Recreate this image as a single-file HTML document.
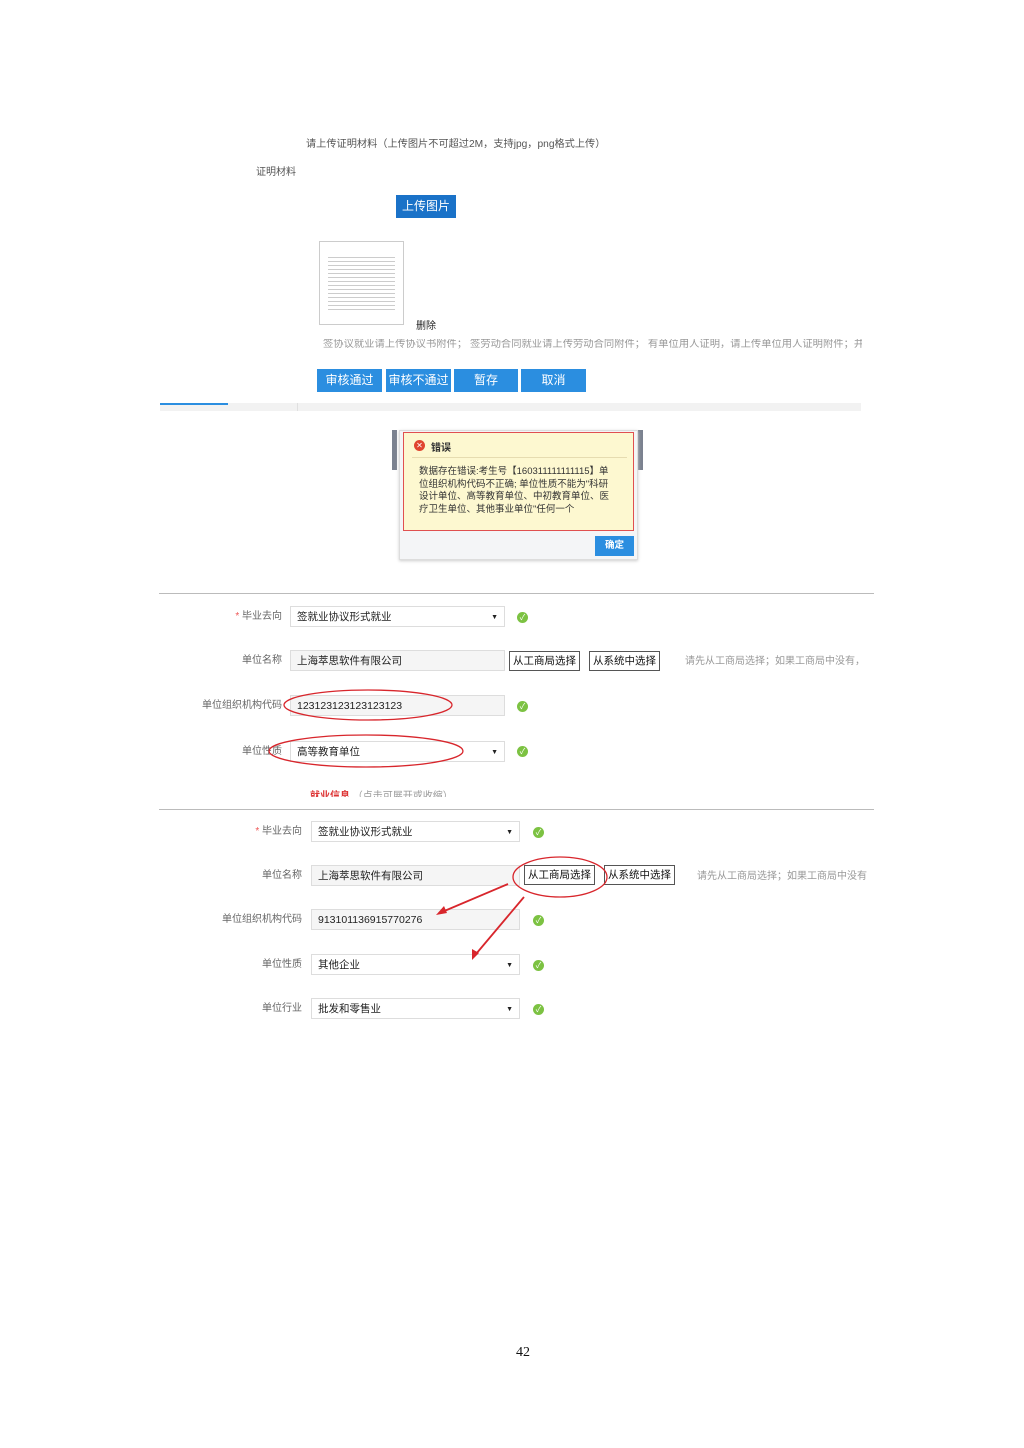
<!DOCTYPE html>
<html><head><meta charset="utf-8"><style>
body{margin:0;width:1024px;height:1448px;background:#fff;position:relative;font-family:"Liberation Sans","Noto Sans CJK SC",sans-serif;overflow:hidden}
.a{position:absolute;white-space:nowrap}
.t{font-size:10px;color:#555;line-height:12px}
.btn{position:absolute;background:#2b8ee0;color:#fff;font-size:12px;text-align:center;line-height:23px;height:23px}
.lbl{position:absolute;font-size:10px;color:#666;text-align:right;line-height:12px}
.inp{position:absolute;height:21px;border:1px solid #ddd;font-size:10.5px;color:#222;line-height:21px;padding-left:6px;box-sizing:border-box}
.sel::after{content:"▼";position:absolute;right:6px;font-size:7px;color:#222}
.ck{position:absolute;width:11px;height:11px;border-radius:50%;background:#7cc242;color:#fff;font-size:8px;line-height:11px;text-align:center}
.ob{position:absolute;border:1px solid #555;background:#fff;font-size:10.5px;line-height:18px;height:18px;padding:0 3px;color:#111}
</style></head><body>
<div class="a t" style="left:306px;top:139px;font-size:10.2px">请上传证明材料（上传图片不可超过2M，支持jpg，png格式上传）</div>
<div class="a t" style="left:256px;top:167px">证明材料</div>
<div class="btn" style="left:396px;top:195px;width:60px;background:#1a72c8">上传图片</div>
<div class="a" style="left:319px;top:241px;width:85px;height:84px;border:1px solid #ccc;box-sizing:border-box;background:repeating-linear-gradient(#fff 0 3px,#ccc 3px 4px);background-clip:content-box;padding:12px 8px"></div>
<div class="a" style="left:416px;top:317px;font-size:10px;color:#222">删除</div>
<div class="a t" style="left:323px;top:339px;color:#999;width:539px;overflow:hidden;font-size:10.3px">签协议就业请上传协议书附件； 签劳动合同就业请上传劳动合同附件； 有单位用人证明，请上传单位用人证明附件；并</div>
<div class="btn" style="left:317px;top:369px;width:65px">审核通过</div>
<div class="btn" style="left:386px;top:369px;width:65px">审核不通过</div>
<div class="btn" style="left:454px;top:369px;width:64px">暂存</div>
<div class="btn" style="left:521px;top:369px;width:65px">取消</div>
<div class="a" style="left:160px;top:403px;width:701px;height:8px;background:#f2f2f2"></div>
<div class="a" style="left:160px;top:403px;width:68px;height:2px;background:#2b8ee0"></div>
<div class="a" style="left:297px;top:403px;width:1px;height:8px;background:#e0e0e0"></div>
<div class="a" style="left:392px;top:430px;width:5px;height:40px;background:#7b8290"></div>
<div class="a" style="left:638px;top:430px;width:5px;height:40px;background:#7b8290"></div>
<div class="a" style="left:399px;top:430px;width:239px;height:130px;background:#f4f5f7;border:1px solid #ddd;box-sizing:border-box;box-shadow:0 1px 3px #ccc"></div>
<div class="a" style="left:403px;top:432px;width:231px;height:99px;background:#fdf8d0;border:1.5px solid #e05050;box-sizing:border-box"></div>
<div class="a" style="left:414px;top:440px;width:11px;height:11px;border-radius:50%;background:#e0452f;color:#fff;font-size:8px;line-height:11px;text-align:center">✕</div>
<div class="a" style="left:431px;top:439px;font-size:10px;font-weight:bold;color:#333">错误</div>
<div class="a" style="left:412px;top:457px;width:215px;height:1px;background:#e6dcb0"></div>
<div class="a" style="left:419px;top:466px;font-size:9.5px;line-height:12.5px;color:#333;white-space:normal;width:194px">数据存在错误:考生号【160311111111115】单位组织机构代码不正确; 单位性质不能为"科研设计单位、高等教育单位、中初教育单位、医疗卫生单位、其他事业单位"任何一个</div>
<div class="a" style="left:595px;top:536px;width:39px;height:20px;background:#2b8ee0;color:#fff;font-size:9.5px;font-weight:bold;line-height:20px;text-align:center">确定</div>
<div class="a" style="left:159px;top:593px;width:715px;height:1px;background:#bbb"></div>
<div class="lbl" style="left:180px;top:611px;width:102px"><span style="color:#e55">*</span> 毕业去向</div>
<div class="inp sel" style="left:290px;top:606px;width:215px">签就业协议形式就业</div>
<div class="ck" style="left:517px;top:612px">✓</div>
<div class="lbl" style="left:180px;top:655px;width:102px">单位名称</div>
<div class="inp" style="left:290px;top:650px;width:215px;background:#f5f5f5">上海萃思软件有限公司</div>
<div class="ob" style="left:509px;top:651px">从工商局选择</div>
<div class="ob" style="left:589px;top:651px">从系统中选择</div>
<div class="a t" style="left:685px;top:656px;color:#999">请先从工商局选择；如果工商局中没有，</div>
<div class="lbl" style="left:170px;top:700px;width:112px">单位组织机构代码</div>
<div class="inp" style="left:290px;top:695px;width:215px;background:#f5f5f5">123123123123123123</div>
<div class="ck" style="left:517px;top:701px">✓</div>
<div class="lbl" style="left:180px;top:746px;width:102px">单位性质</div>
<div class="inp sel" style="left:290px;top:741px;width:215px">高等教育单位</div>
<div class="ck" style="left:517px;top:746px">✓</div>
<div class="a" style="left:310px;top:789px;height:8px;overflow:hidden;font-size:10px;line-height:16px;color:#d33"><b>就业信息</b> <span style="color:#999">（点击可展开或收缩）</span></div>
<div class="a" style="left:159px;top:809px;width:715px;height:1px;background:#bbb"></div>
<div class="lbl" style="left:200px;top:826px;width:102px"><span style="color:#e55">*</span> 毕业去向</div>
<div class="inp sel" style="left:311px;top:821px;width:209px">签就业协议形式就业</div>
<div class="ck" style="left:533px;top:827px">✓</div>
<div class="lbl" style="left:200px;top:870px;width:102px">单位名称</div>
<div class="inp" style="left:311px;top:865px;width:209px;background:#f5f5f5">上海萃思软件有限公司</div>
<div class="ob" style="left:524px;top:865px">从工商局选择</div>
<div class="ob" style="left:604px;top:865px">从系统中选择</div>
<div class="a t" style="left:697px;top:871px;color:#999">请先从工商局选择；如果工商局中没有</div>
<div class="lbl" style="left:190px;top:914px;width:112px">单位组织机构代码</div>
<div class="inp" style="left:311px;top:909px;width:209px;background:#f5f5f5">913101136915770276</div>
<div class="ck" style="left:533px;top:915px">✓</div>
<div class="lbl" style="left:200px;top:959px;width:102px">单位性质</div>
<div class="inp sel" style="left:311px;top:954px;width:209px">其他企业</div>
<div class="ck" style="left:533px;top:960px">✓</div>
<div class="lbl" style="left:200px;top:1003px;width:102px">单位行业</div>
<div class="inp sel" style="left:311px;top:998px;width:209px">批发和零售业</div>
<div class="ck" style="left:533px;top:1004px">✓</div>
<svg class="a" style="left:0;top:0" width="1024" height="1448">
<g fill="none" stroke="#d8262c" stroke-width="1.3">
<ellipse cx="368" cy="705" rx="84" ry="15"/>
<ellipse cx="366" cy="751" rx="97" ry="16"/>
<ellipse cx="560" cy="877" rx="47" ry="20"/>
</g>
<g stroke="#d8262c" stroke-width="1.8">
<line x1="508" y1="884" x2="442" y2="912"/>
<line x1="524" y1="897" x2="476" y2="954"/>
</g>
<polygon points="436,915 444,906 447,913" fill="#d8262c"/>
<polygon points="472,960 472,949 479,953" fill="#d8262c"/>
</svg>
<div class="a" style="left:516px;top:1345px;font-family:'Liberation Serif',serif;font-size:14px;color:#111">42</div>
</body></html>
